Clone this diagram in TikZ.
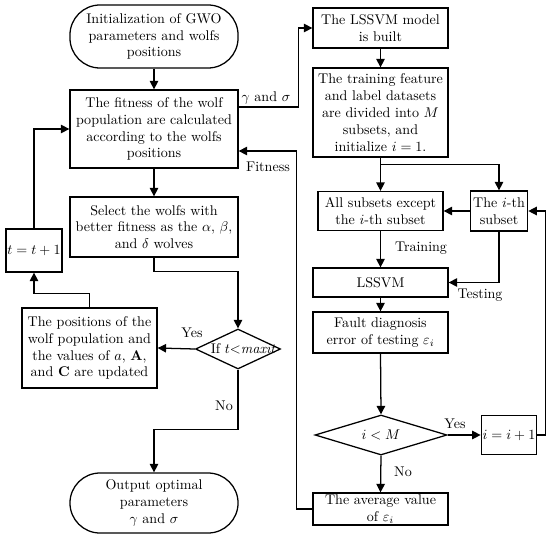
\documentclass[tikz,border=0pt]{standalone}
\usepackage{amsmath}
\usetikzlibrary{arrows.meta,shapes.geometric}

\begin{document}
\begin{tikzpicture}[x=0.025cm, y=-0.025cm,
        box/.style={draw, line width=0.9pt, align=center, inner sep=2pt},
        term/.style={box, rounded corners=0.75cm},
        dec/.style={draw, line width=0.9pt, diamond, inner sep=0pt},
        arr/.style={line width=0.9pt, -{Triangle[length=6pt,width=6pt]}},
        lbl/.style={inner sep=1pt}]
        \useasboundingbox (0,0) rectangle (550,538);

        % GWO loop
        \node[term, minimum width=4.2cm, minimum height=1.575cm] (init) at (154,36.5) {Initialization of GWO\\parameters and wolfs\\positions};
        \node[box, minimum width=4.2cm, minimum height=1.95cm] (fit) at (154,129) {The fitness of the wolf\\population are calculated\\according to the wolfs\\positions};
        \node[box, minimum width=4.2cm, minimum height=1.5cm] (sel) at (154,227) {Select the wolfs with\\better fitness as the $\alpha$, $\beta$,\\and $\delta$ wolves};
        \node[box, inner sep=1pt, minimum width=1.3cm, minimum height=1.075cm] (tinc) at (34,250.5) {$t=t+1$};
        \node[box, minimum width=3.375cm, minimum height=2cm] (upd) at (89.5,348) {The positions of the\\wolf population and\\the values of $a$, $\mathbf{A}$,\\and $\mathbf{C}$ are updated};
        \node[dec, minimum width=2.125cm, minimum height=1cm] (ifmax) at (238,349) {\makebox[0pt]{\hspace{8pt}If $t{<}\mathit{maxit}$}};
        \node[term, minimum width=4.2cm, minimum height=1.5cm] (out) at (154,503) {Output optimal\\parameters\\$\gamma$ and $\sigma$};

        % LSSVM cross validation
        \node[box, minimum width=3.375cm, minimum height=1cm] (model) at (380.5,28) {The LSSVM model\\is built};
        \node[box, minimum width=3.375cm, minimum height=2.225cm] (split) at (380.5,112.5) {The training feature\\and label datasets\\are divided into $M$\\subsets, and\\initialize $i=1$.};
        \node[box, minimum width=3.125cm, minimum height=0.975cm] (rest) at (380.5,211) {All subsets except\\the $i$-th subset};
        \node[box, minimum width=1.4cm, minimum height=1cm] (ith) at (499,211) {The $i$-th\\subset};
        \node[box, minimum width=3.375cm, minimum height=0.725cm] (svm) at (380.5,282.5) {LSSVM};
        \node[box, minimum width=3.375cm, minimum height=1.025cm] (err) at (380.5,332.5) {Fault diagnosis\\error of testing $\varepsilon_i$};
        \node[dec, minimum width=3.3cm, minimum height=1cm] (iltm) at (381,435) {\makebox[0pt]{$i<M$}};
        \node[box, inner sep=1pt, minimum width=1.3cm, minimum height=0.975cm] (iinc) at (509,435) {$i=i+1$};
        \node[box, inner sep=1pt, minimum width=3.375cm, minimum height=0.8cm] (avg) at (380.5,509) {The average value\\of $\varepsilon_i$};

        % Labels
        \node[lbl] (lgs) at (266,98) {$\gamma$ and $\sigma$};
        \node[lbl] (lfit) at (268,167) {Fitness};
        \node[lbl] (lyes1) at (192,333) {Yes};
        \node[lbl] (lno1) at (224,406) {No};
        \node[lbl] (ltrain) at (421,248) {Training};
        \node[lbl] (ltest) at (480,295) {Testing};
        \node[lbl] (lyes2) at (455,424) {Yes};
        \node[lbl] (lno2) at (403,472) {No};

        % Arrows left
        \draw[arr] (init.south) -- (fit.north);
        \draw[arr] (fit.south) -- (sel.north);
        \draw[arr] (sel.south) -- ++(0,14) -| (ifmax.north);
        \draw[arr] (ifmax.west) -- (upd.east);
        \draw[arr] (upd.north) -- ++(0,-14) -| (tinc.south);
        \draw[arr] (tinc.north) |- (fit.west);
        \draw[arr] (ifmax.south) -- ++(0,60) -| (out.north);

        % Arrows right
        \draw[arr] ([yshift=0.55cm]fit.east) -- ++(60,0) |- (model.west);
        \draw[arr] (model.south) -- (split.north);
        \draw[arr] (split.south) -- (rest.north);
        \draw[arr] (split.south) -- ++(0,7) -| (ith.north);
        \draw[arr] (ith.west) -- (rest.east);
        \draw[arr] (rest.south) -- (svm.north);
        \draw[arr] (ith.south) |- (svm.east);
        \draw[arr] (svm.south) -- (err.north);
        \draw[arr] (err.south) -- (iltm.north);
        \draw[arr] (iltm.east) -- (iinc.west);
        \draw[arr] (iinc.east) -- ++(8,0) |- (ith.east);
        \draw[arr] (iltm.south) -- (avg.north);
        \draw[arr] (avg.west) -- ++(-16,0) |- ([yshift=-0.55cm]fit.east);
\end{tikzpicture}
\end{document}
